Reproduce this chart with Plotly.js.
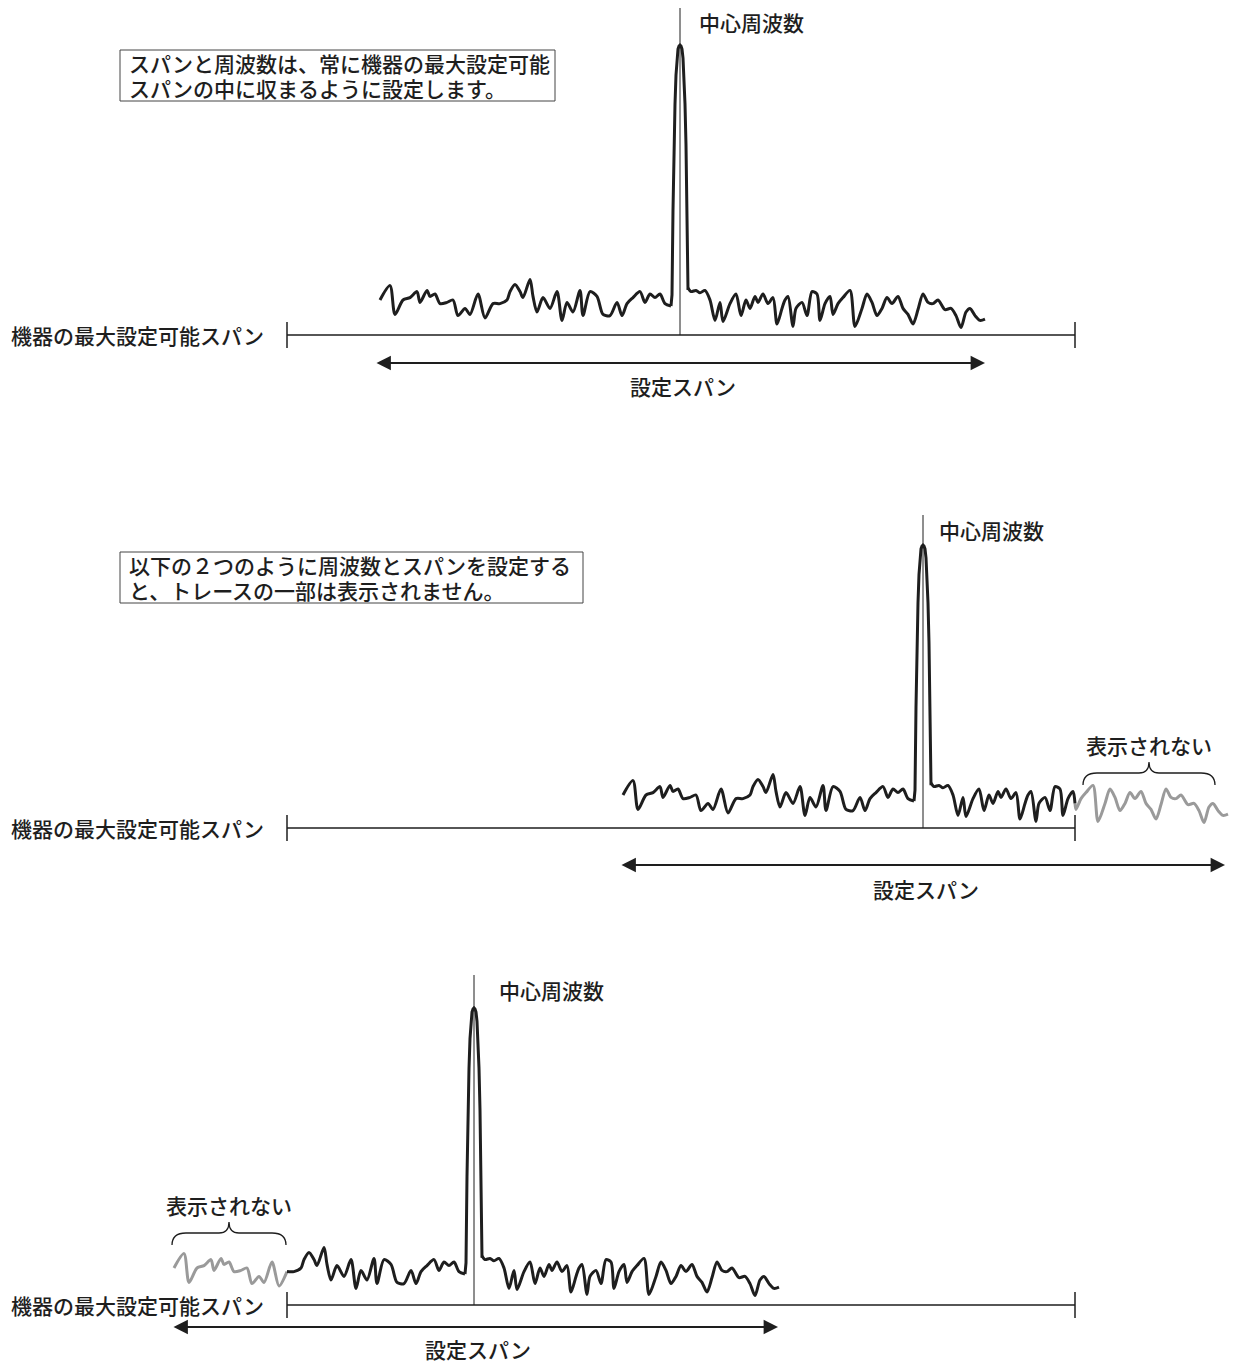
<!DOCTYPE html>
<html>
<head>
<meta charset="utf-8">
<script src="https://cdn.plot.ly/plotly-3.0.1.min.js"></script>
<style>html,body{margin:0;padding:0;background:#fff;}#chart{width:1236px;height:1365px;}</style>
</head>
<body>
<div id="chart"></div>
<script>
// ---------- data ----------
const panelCenter      = [680, 923, 474];
const panelMaxLineY    = [335, 828, 1305];
const panelNoiseBaseY  = [300, 795, 1268];
const panelPeakTopY    = [45, 545, 1008];
const panelCenterTopY  = [8, 515, 975];
const panelArrowY      = [363, 865, 1327];
const panelArrowStart  = [375, 620, 172];
const panelArrowEnd    = [985, 1225, 778];
const panelSpanLabelY  = [387, 890, 1350];
const panelCenterLblX  = [698, 938, 498];
const panelCenterLblY  = [22, 530, 990];
const maxSpanStart = 287;
const maxSpanEnd   = 1075;

// noise floor left of the carrier (offset from start, level up)
const noiseLeftDx = [0,10,15,23,30,37,40,47,50,55,60,67,73,78,85,90,98,105,113,120,127,130,135,140,143,150,153,157,163,170,177,182,187,193,200,203,210,217,223,230,237,242,247,253,260,265,270,275,280,285,291];
const noiseLeftLv = [0,12,-12,0,2,7,-2,8,3,5,-3,-2,0,-13,-7,-12,5,-15,-3,-3,0,7,13,7,2,17,3,-10,2,-7,7,-17,-2,-10,8,-13,7,3,-12,-13,-2,-13,-3,2,7,-2,5,2,5,-3,-5];
// noise floor right of the carrier
const noiseRightDx = [0,3,8,12,17,22,27,32,35,42,48,53,58,62,67,70,75,80,85,89,94,97,100,105,108,114,119,124,129,132,137,142,145,150,155,162,167,174,179,184,189,194,199,204,210,215,220,225,230,235,240,245,250,257,263,268,273,278,282,287,292,297];
const noiseRightLv = [10,7,8,6,8,0,-17,-2,-18,-3,5,-13,0,-7,3,-2,5,-3,2,-20,-7,0,3,-22,-7,-2,-13,7,5,-17,-3,3,-12,-3,2,8,-22,-7,5,-2,-13,-7,2,-3,3,-7,-12,-20,-8,5,-2,-3,0,-8,-7,-13,-23,-10,-7,-13,-17,-16];
// carrier peak profile (offset from centre, height on a 0-255 scale)
const peakDx = [-8,-7,-6,-5,-4,-3,-2,-1,0,1,2,3,4,5,6,7,8];
const peakLv = [5,90,155,196,225,242,251,254,255,254,251,242,225,196,155,90,10];

// texts
const boxLines = [
  ["スパンと周波数は、常に機器の最大設定可能", "スパンの中に収まるように設定します。"],
  ["以下の２つのように周波数とスパンを設定する", "と、トレースの一部は表示されません。"]
];
const boxTopY = [50, 552];
const boxRightX = [555, 583];
const maxSpanLabel = "機器の最大設定可能スパン";
const spanLabel = "設定スパン";
const centerLabel = "中心周波数";
const hiddenLabel = "表示されない";
const hiddenBrace = [[1083, 1215, 785], [172, 286, 1245]];

// ---------- drawing ----------
const W = 1236, H = 1365;
const FONT = '"Liberation Sans", "Noto Sans CJK JP", "Noto Sans", sans-serif';
const FS = 21, FW = 500, DY = 1.5;
const INK = '#1e1e1e', GREY = '#9a9a9a';
const NOISE_GAIN = 1.2;
const traces = [], shapes = [], annotations = [];

function line(xs, ys, color, width, shape) {
  traces.push({x: xs, y: ys, mode: 'lines', type: 'scatter', hoverinfo: 'skip',
    line: {color: color, width: width, shape: shape || 'linear', smoothing: 0.8}, connectgaps: false});
}
function label(x, y, text, xanchor, size) {
  annotations.push({x: x, y: y + DY, text: text, showarrow: false, xanchor: xanchor || 'left', yanchor: 'middle',
    borderpad: 0, font: {family: FONT, size: size || FS, color: INK, weight: FW}});
}

function splitVisible(xs, ys, lo, hi) {
  const vx = [], vy = [], gx = [], gy = [];
  const inside = x => x >= lo && x <= hi;
  for (let i = 0; i < xs.length; i++) {
    const a = inside(xs[i]);
    if (a) { vx.push(xs[i]); vy.push(ys[i]); } else { gx.push(xs[i]); gy.push(ys[i]); }
    if (i < xs.length - 1) {
      const b = inside(xs[i + 1]);
      if (a !== b) {
        const bx = (xs[i + 1] > hi || xs[i] > hi) ? hi : lo;
        const t = (bx - xs[i]) / (xs[i + 1] - xs[i]);
        const by = ys[i] + t * (ys[i + 1] - ys[i]);
        vx.push(bx); vy.push(by); gx.push(bx); gy.push(by);
        if (a) { vx.push(null); vy.push(null); } else { gx.push(null); gy.push(null); }
      }
    }
  }
  return [vx, vy, gx, gy];
}

for (let p = 0; p < 3; p++) {
  const c = panelCenter[p], mY = panelMaxLineY[p], base = panelNoiseBaseY[p];
  const scale = (base - panelPeakTopY[p]) / 255;

  line([maxSpanStart, maxSpanEnd, null, maxSpanStart, maxSpanStart, null, maxSpanEnd, maxSpanEnd],
       [mY, mY, null, mY - 13, mY + 13, null, mY - 13, mY + 13], INK, 1.5);
  line([c, c], [panelCenterTopY[p], mY], INK, 1);

  const lx = noiseLeftDx.map(d => c - 300 + d), ly = noiseLeftLv.map(v => base - v * NOISE_GAIN);
  const rx = noiseRightDx.map(d => c + 8 + d), ry = noiseRightLv.map(v => base - v * NOISE_GAIN);
  [[lx, ly], [rx, ry]].forEach(([xs, ys]) => {
    const [vx, vy, gx, gy] = splitVisible(xs, ys, maxSpanStart, maxSpanEnd);
    if (gx.length) line(gx, gy, GREY, 3, 'spline');
    if (vx.length) line(vx, vy, INK, 3, 'spline');
  });
  const px = [lx[lx.length - 1]].concat(peakDx.map(d => c + d));
  const py = [ly[ly.length - 1]].concat(peakLv.map(v => base - v * scale));
  line(px, py, INK, 3);

  annotations.push({x: panelArrowEnd[p], y: panelArrowY[p], ax: panelArrowStart[p], ay: panelArrowY[p],
    xref: 'x', yref: 'y', axref: 'x', ayref: 'y', text: '', showarrow: true,
    arrowside: 'end+start', arrowhead: 2, arrowsize: 1.6, arrowwidth: 1.8, arrowcolor: INK});
  label((panelArrowStart[p] + panelArrowEnd[p]) / 2 + 3, panelSpanLabelY[p] - 1, spanLabel, 'center');
  label(10, mY, maxSpanLabel);
  label(panelCenterLblX[p], panelCenterLblY[p], centerLabel);
}

// text boxes
boxLines.forEach((lines, i) => {
  const top = boxTopY[i];
  shapes.push({type: 'rect', xref: 'x', yref: 'y', x0: 120, x1: boxRightX[i], y0: top, y1: top + 51,
    line: {color: '#444', width: 1}, fillcolor: 'rgba(0,0,0,0)'});
  lines.forEach((t, k) => label(128, top + 13 + k * 25, t, 'left', 21));
});

// "not displayed" braces
hiddenBrace.forEach(([x0, x1, yb]) => {
  const yt = yb - 12, xc = (x0 + x1) / 2, yc = yt - 11;
  shapes.push({type: 'path', xref: 'x', yref: 'y', line: {color: INK, width: 1.3},
    path: `M ${x0},${yb} Q ${x0},${yt} ${x0 + 14},${yt} L ${xc - 10},${yt} Q ${xc},${yt} ${xc},${yc} Q ${xc},${yt} ${xc + 10},${yt} L ${x1 - 14},${yt} Q ${x1},${yt} ${x1},${yb}`});
  label(xc, yc - 17, hiddenLabel, 'center');
});

const layout = {
  width: W, height: H, margin: {l: 0, r: 0, t: 0, b: 0},
  paper_bgcolor: '#fff', plot_bgcolor: '#fff', showlegend: false,
  xaxis: {range: [0, W], visible: false, fixedrange: true},
  yaxis: {range: [H, 0], visible: false, fixedrange: true},
  shapes: shapes, annotations: annotations
};
Plotly.newPlot('chart', traces, layout, {staticPlot: true, displayModeBar: false});
</script>
</body>
</html>
